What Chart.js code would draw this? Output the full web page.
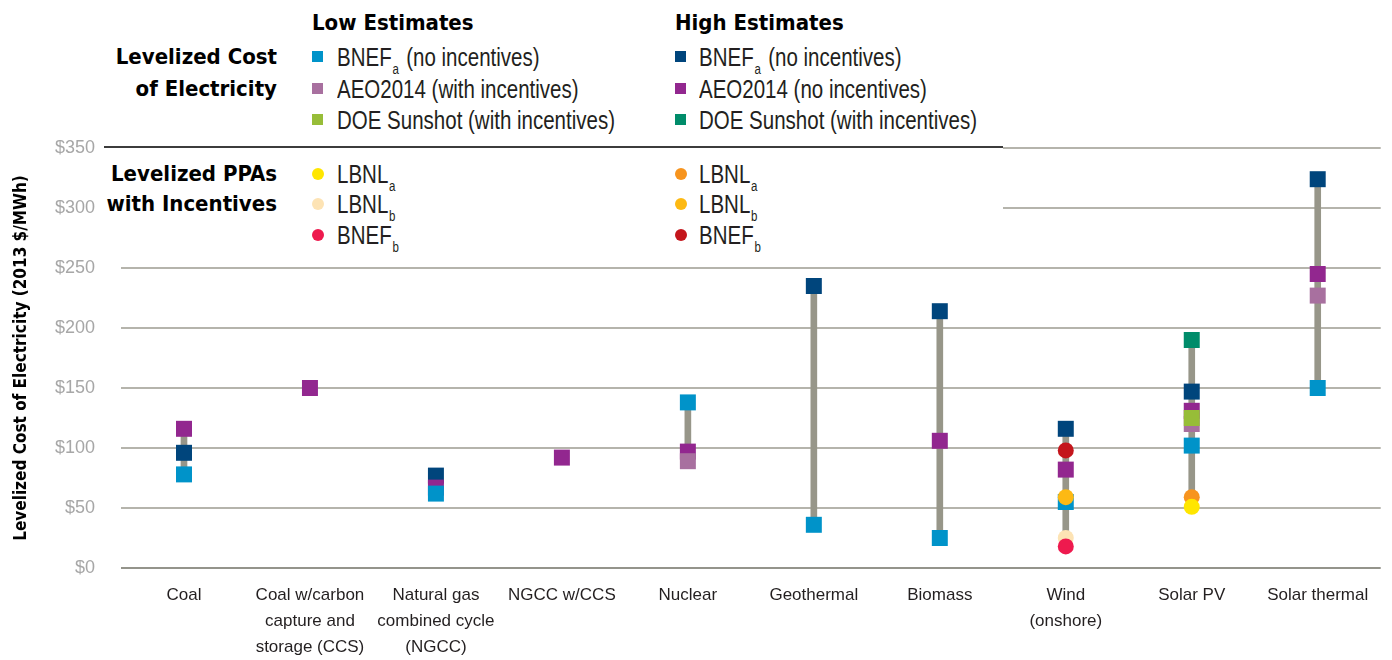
<!DOCTYPE html>
<html>
<head>
<meta charset="utf-8">
<script src="https://cdn.jsdelivr.net/npm/chart.js@4.4.1/dist/chart.umd.min.js"></script>
<style>
  body { margin: 0; background: #fff; }
  #wrap { position: relative; width: 1392px; height: 660px; }
  #legendBox { position: absolute; left: 100px; top: 0; width: 903px; height: 256px; background: #fff; }
  #rule { position: absolute; left: 104px; top: 146px; width: 899px; height: 2px; background: #3c3c3c; }
  .t { position: absolute; font-family: 'Liberation Sans', Arial, sans-serif; font-size: 25px; line-height: 30px; color: #231f20; white-space: nowrap;
       transform: scaleX(0.82); transform-origin: 0 50%; }
  .b { position: absolute; font-family: 'DejaVu Sans Condensed', 'DejaVu Sans', sans-serif; font-stretch: condensed; font-weight: bold; font-size: 22px; line-height: 30px; color: #000; white-space: nowrap; }
  .r { text-align: right; right: 1115px; }
  .sub { font-size: 14px; position: relative; top: 8px; margin: 0 2px 0 1px; }
  .sq { position: absolute; width: 11px; height: 11px; }
  .dot { position: absolute; width: 12px; height: 12px; border-radius: 50%; }
</style>
</head>
<body>
<div id="wrap">
  <canvas id="chart" width="1392" height="660"></canvas>

  <div id="legendBox"></div>
  <div id="rule"></div>

  <div class="b" style="left:312px; top:8px">Low Estimates</div>
  <div class="b" style="left:675px; top:8px">High Estimates</div>

  <div class="b r" style="top:42px">Levelized Cost</div>
  <div class="b r" style="top:74px">of Electricity</div>
  <div class="b r" style="top:159px">Levelized PPAs</div>
  <div class="b r" style="top:189px">with Incentives</div>

  <!-- low estimates -->
  <div class="sq" style="left:312px; top:51px; background:#0093c9"></div>
  <div class="t" style="left:337px; top:42px">BNEF<span class="sub">a</span> (no incentives)</div>
  <div class="sq" style="left:312px; top:83px; background:#a8709f"></div>
  <div class="t" style="left:337px; top:74px">AEO2014 (with incentives)</div>
  <div class="sq" style="left:312px; top:114px; background:#97bd38"></div>
  <div class="t" style="left:337px; top:105px">DOE Sunshot (with incentives)</div>

  <div class="dot" style="left:312px; top:168px; background:#ffe600"></div>
  <div class="t" style="left:337px; top:159px">LBNL<span class="sub">a</span></div>
  <div class="dot" style="left:312px; top:198px; background:#fde3b4"></div>
  <div class="t" style="left:337px; top:189px">LBNL<span class="sub">b</span></div>
  <div class="dot" style="left:312px; top:229px; background:#ee1a4e"></div>
  <div class="t" style="left:337px; top:220px">BNEF<span class="sub">b</span></div>

  <!-- high estimates -->
  <div class="sq" style="left:675px; top:51px; background:#00457c"></div>
  <div class="t" style="left:699px; top:42px">BNEF<span class="sub">a</span> (no incentives)</div>
  <div class="sq" style="left:675px; top:83px; background:#92278f"></div>
  <div class="t" style="left:699px; top:74px">AEO2014 (no incentives)</div>
  <div class="sq" style="left:675px; top:114px; background:#008c6a"></div>
  <div class="t" style="left:699px; top:105px">DOE Sunshot (with incentives)</div>

  <div class="dot" style="left:675px; top:168px; background:#f7941e"></div>
  <div class="t" style="left:699px; top:159px">LBNL<span class="sub">a</span></div>
  <div class="dot" style="left:675px; top:198px; background:#fdb913"></div>
  <div class="t" style="left:699px; top:189px">LBNL<span class="sub">b</span></div>
  <div class="dot" style="left:675px; top:229px; background:#c4161c"></div>
  <div class="t" style="left:699px; top:220px">BNEF<span class="sub">b</span></div>
</div>

<script>
const categories = [
  'Coal',
  ['Coal w/carbon', 'capture and', 'storage (CCS)'],
  ['Natural gas', 'combined cycle', '(NGCC)'],
  'NGCC w/CCS',
  'Nuclear',
  'Geothermal',
  'Biomass',
  ['Wind', '(onshore)'],
  'Solar PV',
  'Solar thermal',
]

const yTicks = [0, 50, 100, 150, 200, 250, 300, 350]

// levelized cost of electricity ($/MWh)
const bnefLow = [78, null, 62, null, 138, 36, 25, 55, 102, 150]
const bnefHigh = [96, null, 77, null, null, 235, 214, 116, 147, 324]
const aeoLow = [null, null, null, null, 89, null, null, null, 120, 227]
const aeoHigh = [116, 150, 67, 92, 97, null, 106, 82, 131, 245]
const doeLow = [null, null, null, null, null, null, null, null, 125, null]
const doeHigh = [null, null, null, null, null, null, null, null, 190, null]

// levelized PPAs with incentives
const lbnlALow = [null, null, null, null, null, null, null, null, 51, null]
const lbnlBLow = [null, null, null, null, null, null, null, 25, null, null]
const bnefBLow = [null, null, null, null, null, null, null, 18, null, null]
const lbnlAHigh = [null, null, null, null, null, null, null, null, 59, null]
const lbnlBHigh = [null, null, null, null, null, null, null, 59, null, null]
const bnefBHigh = [null, null, null, null, null, null, null, 98, null, null]

const allSeries = [bnefLow, bnefHigh, aeoLow, aeoHigh, doeLow, doeHigh,
  lbnlALow, lbnlBLow, bnefBLow, lbnlAHigh, lbnlBHigh, bnefBHigh]

// grey whisker from lowest to highest estimate of each technology
const ranges = categories.map((c, i) => {
  const vals = allSeries.map(s => s[i]).filter(v => v !== null)
  if (vals.length < 2) return null
  return [Math.min(...vals), Math.max(...vals)]
})

const plain = "'Liberation Sans', Arial, sans-serif"
const condBold = "'DejaVu Sans Condensed', 'DejaVu Sans', sans-serif"

const square = (label, data, color, order) => ({
  type: 'line', label, data, order,
  showLine: false, pointStyle: 'rect', pointRadius: 11.3, pointHoverRadius: 11.3,
  pointBorderWidth: 0, pointBackgroundColor: color, borderColor: color, clip: false,
})
const dot = (label, data, color, order) => ({
  type: 'line', label, data, order,
  showLine: false, pointStyle: 'circle', pointRadius: 8, pointHoverRadius: 8,
  pointBorderWidth: 0, pointBackgroundColor: color, borderColor: color, clip: false,
})

const config = {
  type: 'bar',
  data: {
    labels: categories,
    datasets: [
      dot('LBNL a low', lbnlALow, '#ffe600', 1),
      dot('BNEF b low', bnefBLow, '#ee1a4e', 2),
      dot('LBNL b high', lbnlBHigh, '#fdb913', 3),
      dot('LBNL a high', lbnlAHigh, '#f7941e', 4),
      dot('LBNL b low', lbnlBLow, '#fde3b4', 5),
      dot('BNEF b high', bnefBHigh, '#c4161c', 6),
      square('DOE low', doeLow, '#97bd38', 7),
      square('DOE high', doeHigh, '#008c6a', 8),
      square('BNEF a low', bnefLow, '#0093c9', 9),
      square('AEO2014 low', aeoLow, '#a8709f', 10),
      square('AEO2014 high', aeoHigh, '#92278f', 11),
      square('BNEF a high', bnefHigh, '#00457c', 12),
      {
        type: 'bar', label: 'range', data: ranges, order: 100,
        backgroundColor: '#979689', barThickness: 6, borderWidth: 0,
      },
    ],
  },
  options: {
    responsive: false,
    animation: false,
    layout: { padding: { top: 148, right: 4, left: 0, bottom: 0 } },
    plugins: { legend: { display: false }, tooltip: { enabled: false } },
    scales: {
      x: {
        type: 'category',
        offset: true,
        grid: { display: false, drawTicks: false },
        border: { display: false },
        ticks: {
          padding: 14,
          maxRotation: 0,
          autoSkip: false,
          color: '#231f20',
          font: { family: plain, size: 17, lineHeight: 1.53 },
        },
        afterFit: (scale) => { scale.height = 92 },
      },
      y: {
        min: 0,
        max: 350,
        afterBuildTicks: (scale) => { scale.ticks = yTicks.map(v => ({ value: v })) },
        ticks: {
          padding: 26,
          color: '#a7a7a7',
          font: { family: plain, size: 18 },
          callback: (v) => '$' + v,
        },
        grid: {
          drawTicks: false,
          lineWidth: 2,
          color: (ctx) => (ctx.tick && ctx.tick.value === 0 ? '#94948b' : '#b5b4ac'),
        },
        border: { display: false },
        title: {
          display: true,
          text: 'Levelized Cost of Electricity (2013 $/MWh)',
          color: '#000',
          font: { family: condBold, size: 17, weight: 'bold' },
          padding: { top: 11, bottom: 0 },
        },
        afterFit: (scale) => { scale.width = 121 },
      },
    },
  },
}

const myChart = new Chart(document.getElementById('chart'), config)
</script>
</body>
</html>
